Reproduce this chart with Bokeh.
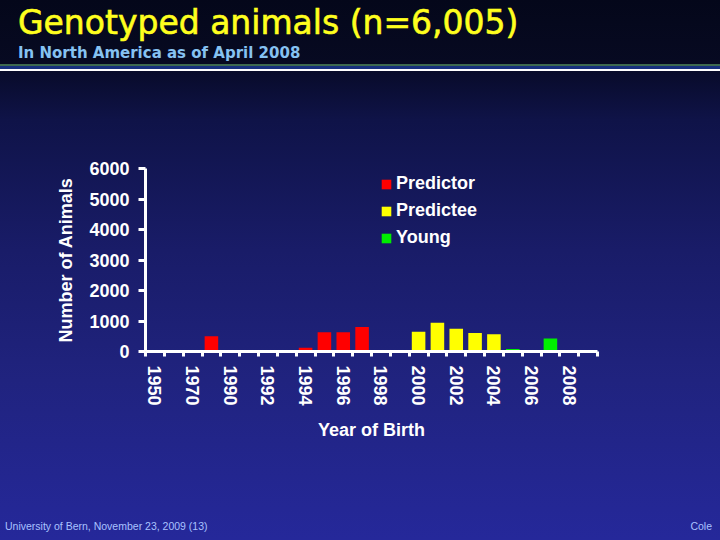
from bokeh.plotting import figure
from bokeh.layouts import column
from bokeh.models import (Range1d, FixedTicker, Legend, LegendItem, Div,
                          GlobalInlineStyleSheet)
from bokeh.embed import file_html
from bokeh.resources import INLINE

# ---------------- data ----------------
years = ["1950", "1960", "1970", "1980", "1990", "1991", "1992", "1993",
         "1994", "1995", "1996", "1997", "1998", "1999", "2000", "2001",
         "2002", "2003", "2004", "2005", "2006", "2007", "2008", "2009"]
shown_labels = ["1950", "1970", "1990", "1992", "1994", "1996", "1998",
                "2000", "2002", "2004", "2006", "2008"]

predictor_years = ["1980", "1994", "1995", "1996", "1997"]
predictor_counts = [500, 120, 630, 630, 800]

predictee_years = ["2000", "2001", "2002", "2003", "2004"]
predictee_counts = [645, 940, 750, 610, 565]

young_years = ["2005", "2007"]
young_counts = [80, 425]

y_ticks = [0, 1000, 2000, 3000, 4000, 5000, 6000]

title_text = "Genotyped animals (n=6,005)"
subtitle_text = "In North America as of April 2008"
footer_left = "University of Bern, November 23, 2009 (13)"
footer_right = "Cole"


def pos(yrs):
    return [years.index(y) + 0.5 for y in yrs]


# ---------------- header ----------------
header = Div(
    text=(f'<div style="margin:0;padding:0 0 0 18px;height:46px;white-space:nowrap;'
          f'font-family:\'DejaVu Sans\';font-weight:normal;font-size:33px;'
          f'line-height:46px;color:#ffff1e;-webkit-text-stroke:0.6px #ffff1e;">'
          f'{title_text}</div>'
          f'<div style="margin:0;padding:0 0 0 18px;height:15px;white-space:nowrap;'
          f'font-family:\'DejaVu Sans\';font-weight:bold;font-size:15px;'
          f'line-height:15px;color:#86c2f2;">{subtitle_text}</div>'),
    width=720, height=158, margin=0)

# ---------------- figure ----------------
p = figure(width=720, height=352, output_backend="svg", toolbar_location=None,
           x_range=Range1d(0, len(years)), y_range=Range1d(0, 6000),
           min_border_left=145, min_border_right=123,
           min_border_top=10, min_border_bottom=159,
           border_fill_color=None, background_fill_color=None,
           outline_line_color=None, margin=0)
p.xgrid.visible = False
p.ygrid.visible = False

bold_font = "Liberation Sans"

for ax in (p.xaxis[0], p.yaxis[0]):
    ax.axis_line_color = "white"
    ax.axis_line_width = 3
    ax.major_label_text_font = bold_font
    ax.major_label_text_font_style = "bold"
    ax.major_label_text_font_size = "18px"
    ax.major_label_text_color = "white"
    ax.axis_label_text_font = bold_font
    ax.axis_label_text_font_style = "bold"
    ax.axis_label_text_font_size = "18px"
    ax.axis_label_text_color = "white"

# x axis: ticks at category boundaries (minor), labels at every other centre
xa = p.xaxis[0]
xa.ticker = FixedTicker(ticks=pos(shown_labels),
                        minor_ticks=list(range(len(years) + 1)))
xa.major_label_overrides = {years.index(l) + 0.5: l for l in shown_labels}
xa.major_tick_line_color = None
xa.major_tick_out = 5
xa.major_tick_in = 0
xa.minor_tick_line_color = "white"
xa.minor_tick_line_width = 3
xa.minor_tick_out = 5
xa.minor_tick_in = 0
xa.major_label_orientation = "vertical"
xa.major_label_standoff = 9
xa.axis_label = "Year of Birth"
xa.axis_label_standoff = 11

ya = p.yaxis[0]
ya.ticker = FixedTicker(ticks=y_ticks)
ya.major_tick_line_color = "white"
ya.major_tick_line_width = 3
ya.major_tick_out = 7
ya.major_tick_in = 0
ya.minor_tick_line_color = None
ya.major_label_standoff = 9
ya.axis_label = "Number of Animals"
ya.axis_label_standoff = 10

r1 = p.vbar(x=pos(predictor_years), top=predictor_counts, width=0.72,
            fill_color="#ff0000", line_color=None)
r2 = p.vbar(x=pos(predictee_years), top=predictee_counts, width=0.72,
            fill_color="#ffff00", line_color=None)
r3 = p.vbar(x=pos(young_years), top=young_counts, width=0.72,
            fill_color="#00ee00", line_color=None)

legend = Legend(items=[LegendItem(label="Predictor", renderers=[r1]),
                       LegendItem(label="Predictee", renderers=[r2]),
                       LegendItem(label="Young", renderers=[r3])],
                location=(235, 103), orientation="vertical",
                glyph_width=12, glyph_height=12, label_standoff=4,
                spacing=6, padding=0, margin=0,
                background_fill_alpha=0, border_line_color=None,
                label_text_font=bold_font, label_text_font_style="bold",
                label_text_font_size="18px", label_text_color="white")
p.add_layout(legend, "center")

# ---------------- footer ----------------
footer = Div(
    text=(f'<div style="display:flex;justify-content:space-between;'
          f'box-sizing:border-box;width:720px;height:30px;margin:0;'
          f'padding:2px 8px 0 5px;white-space:nowrap;'
          f'font-family:\'Liberation Sans\';font-size:10.5px;line-height:28px;'
          f'color:#a9c2ff;"><span>{footer_left}</span>'
          f'<span>{footer_right}</span></div>'),
    width=720, height=30, margin=0)

layout = column(header, p, footer, spacing=0, margin=0)

css = """
html {
  min-height: 100%;
  background: linear-gradient(to bottom,
     #04071a 0px, #070a22 64px,
     #3e6a50 64px, #3e6a50 66px,
     #16307e 66px, #16307e 69px,
     #ffffff 69px, #ffffff 71px,
     #080b2a 71px, #0f1348 120px, #191c68 250px,
     #20237f 380px, #25289a 540px);
}
body { background: transparent; }
"""
layout.stylesheets = [GlobalInlineStyleSheet(css=css)]

open("out.html", "w").write(file_html(layout, INLINE))
